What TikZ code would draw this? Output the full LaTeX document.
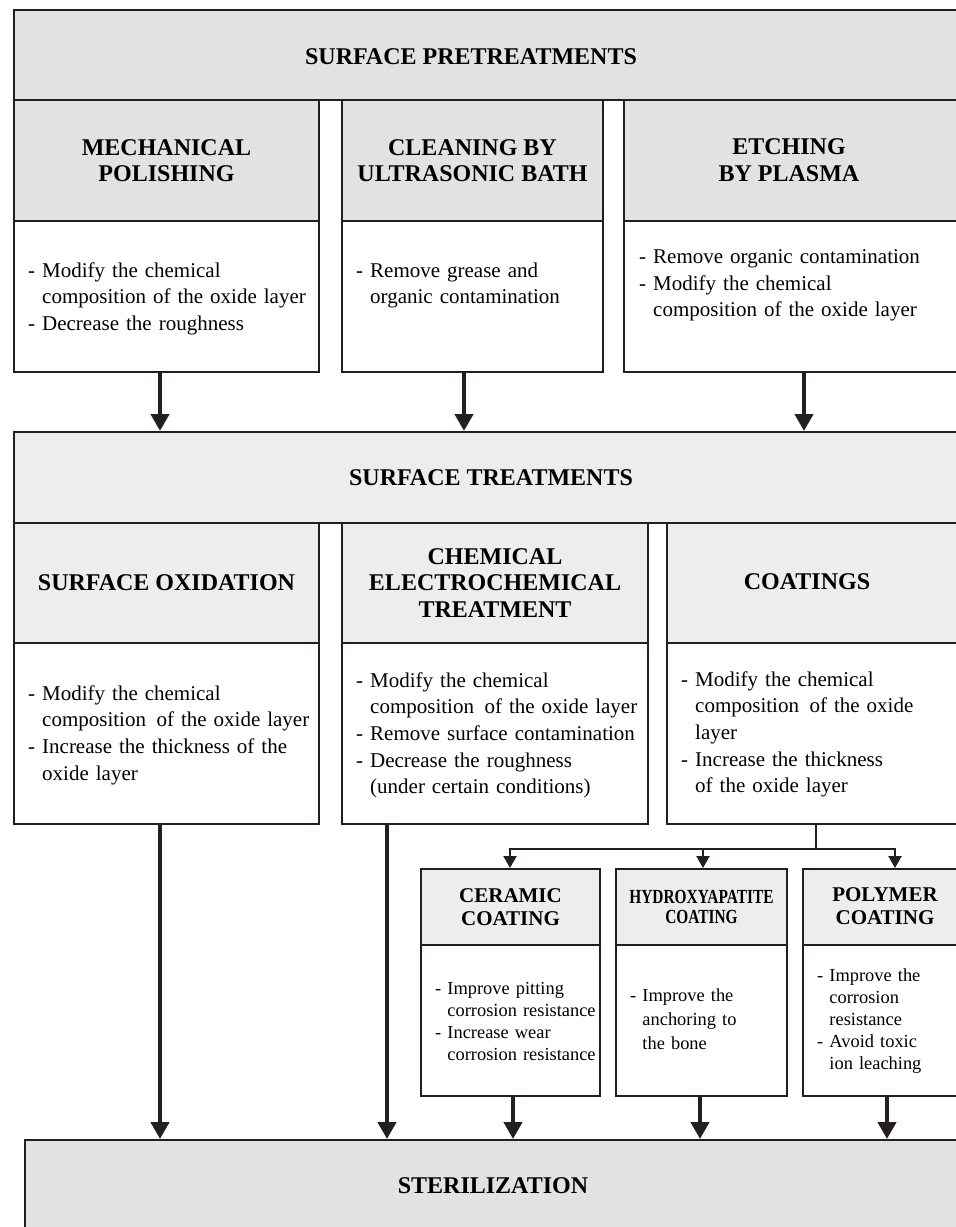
\documentclass[tikz,border=0pt]{standalone}
\usepackage{fontspec}
\setmainfont{Liberation Serif}
\usepackage{graphicx}
\usepackage{tikz}
\usetikzlibrary{positioning}
\usetikzlibrary{arrows.meta,calc}

\definecolor{boxline}{HTML}{231F20}
\definecolor{darkfill}{HTML}{E1E2E4}
\definecolor{lightfill}{HTML}{EDEDED}

\newcommand{\headfont}{\fontsize{24}{26.5}\selectfont\bfseries}
\newcommand{\txtfont}{\fontsize{21}{26.7}\selectfont}
\newcommand{\subheadfont}{\fontsize{21}{23.3}\selectfont\bfseries}
\newcommand{\subtxtfont}{\fontsize{18.4}{22}\selectfont}
\newcommand{\hang}{\phantom{- }}

\tikzset{
  box/.style={draw=boxline, line width=2pt, rectangle, inner sep=0pt, anchor=north west},
  band/.style={box, fill=darkfill},
  head/.style={box, align=center, font=\headfont},
  subhead/.style={box, fill=lightfill, align=center, font=\subheadfont},
  title/.style={inner sep=0pt, align=center, font=\headfont},
  txt/.style={inner sep=0pt, anchor=base west, text width=400pt, align=left, font=\txtfont},
  subtxt/.style={txt, font=\subtxtfont},
  arr/.style={draw=boxline, line width=4.2pt, -{Triangle[width=18pt,length=17pt]}},
  smallarr/.style={draw=boxline, line width=2.2pt, -{Triangle[width=13pt,length=12pt]}}
}

\begin{document}
\begin{tikzpicture}[x=1pt, y=-1pt]
    \useasboundingbox (0,0) rectangle (956,1227);
    \clip (0,0) rectangle (956,1227);

    % pretreatments
    \node[band, minimum width=990pt, minimum height=90pt] (pre) at (13,9) {};
    \node[title] (pretitle) at (471,57) {SURFACE PRETREATMENTS};

    \node[head, fill=darkfill, minimum width=305pt, minimum height=121pt] (mechhead) at (13,99) {MECHANICAL\\POLISHING};
    \node[box, minimum width=305pt, minimum height=151pt] (mechbody) at (13,220) {};
    \node[txt] (mechtxt) at (28,277) {- Modify the chemical\\\hang composition of the oxide layer\\- Decrease the roughness};

    \node[head, fill=darkfill, minimum width=261pt, minimum height=121pt] (cleanhead) at (341,99) {CLEANING BY\\ULTRASONIC BATH};
    \node[box, minimum width=261pt, minimum height=151pt] (cleanbody) at (341,220) {};
    \node[txt] (cleantxt) at (356,277) {- Remove grease and\\\hang organic contamination};

    \node[box, fill=darkfill, minimum width=400pt, minimum height=121pt] (etchhead) at (623,99) {};
    \node[title] (etchtitle) at (789,160) {ETCHING\\BY PLASMA};
    \node[box, minimum width=400pt, minimum height=151pt] (etchbody) at (623,220) {};
    \node[txt] (etchtxt) at (639,263.5) {- Remove organic contamination\\- Modify the chemical\\\hang composition of the oxide layer};

    % treatments
    \node[box, fill=lightfill, minimum width=990pt, minimum height=91pt] (treat) at (13,431) {};
    \node[title] (treattitle) at (491,478) {SURFACE TREATMENTS};

    \foreach \x in {160,464} % two arrows under the left boxes
        \draw[arr] (mechbody.south -| \x,0) -- (treat.north -| \x,0);
    \draw[arr] (etchbody.south -| 804,0) -- (treat.north -| 804,0);

    \node[head, fill=lightfill, minimum width=305pt, minimum height=120pt] (oxhead) at (13,522) {SURFACE OXIDATION};
    \node[box, minimum width=305pt, minimum height=181pt] (oxbody) at (13,642) {};
    \node[txt] (oxtxt) at (28,700) {- Modify the chemical\\\hang composition\, of the oxide layer\\- Increase the thickness of the\\\hang oxide layer};

    \node[head, fill=lightfill, minimum width=306pt, minimum height=120pt] (chemhead) at (341,522) {CHEMICAL\\ELECTROCHEMICAL\\TREATMENT};
    \node[box, minimum width=306pt, minimum height=181pt] (chembody) at (341,642) {};
    \node[txt] (chemtxt) at (356,687) {- Modify the chemical\\\hang composition\, of the oxide layer\\- Remove surface contamination\\- Decrease the roughness\\\hang (under certain conditions)};

    \node[box, fill=lightfill, minimum width=400pt, minimum height=120pt] (coathead) at (666,522) {};
    \node[title] (coattitle) at (807,582) {COATINGS};
    \node[box, minimum width=400pt, minimum height=181pt] (coatbody) at (666,642) {};
    \node[txt] (coattxt) at (681,686) {- Modify the chemical\\\hang composition\, of the oxide\\\hang layer\\- Increase the thickness\\\hang of the oxide layer};

    % kinds of coating
    \node[subhead, minimum width=179pt, minimum height=76pt] (cerhead) at (420,868) {CERAMIC\\COATING};
    \node[box, minimum width=179pt, minimum height=151pt] (cerbody) at (420,944) {};
    \node[subtxt] (certxt) at (435,994) {- Improve pitting\\\hang corrosion resistance\\- Increase wear\\\hang corrosion resistance};

    \node[subhead, minimum width=171pt, minimum height=76pt, font=\fontsize{20}{20}\selectfont\bfseries] (hydhead) at (615,868) {\scalebox{0.77}[1]{HYDROXYAPATITE}\\\scalebox{0.77}[1]{COATING}};
    \node[box, minimum width=171pt, minimum height=151pt] (hydbody) at (615,944) {};
    \node[subtxt, font=\fontsize{18.4}{24}\selectfont] (hydtxt) at (630,1001.5) {- Improve the\\\hang anchoring to\\\hang the bone};

    \node[box, fill=lightfill, minimum width=300pt, minimum height=76pt] (polyhead) at (802,868) {};
    \node[title, font=\subheadfont] (polytitle) at (885,906) {POLYMER\\COATING};
    \node[box, minimum width=300pt, minimum height=151pt] (polybody) at (802,944) {};
    \node[subtxt] (polytxt) at (817,981.5) {- Improve the\\\hang corrosion\\\hang resistance\\- Avoid toxic\\\hang ion leaching};

    \coordinate (split) at (816,849); % where the coating line branches
    \draw[boxline, line width=2.2pt] (coatbody.south -| split) -- (split);
    \draw[smallarr] (split) -| (cerhead.north -| 510,0);
    \draw[smallarr] (split) -| (hydhead.north -| 703,0);
    \draw[smallarr] (split) -| (polyhead.north -| 895,0);

    % sterilization
    \node[band, minimum width=990pt, minimum height=150pt] (steril) at (24,1139) {};
    \node[title] (steriltitle) at (493,1186) {STERILIZATION};

    \draw[arr] (oxbody.south -| 160,0) -- (steril.north -| 160,0);
    \draw[arr] (chembody.south -| 387,0) -- (steril.north -| 387,0);
    \draw[arr] (cerbody.south -| 513,0) -- (steril.north -| 513,0);
    \draw[arr] (hydbody.south -| 700,0) -- (steril.north -| 700,0);
    \draw[arr] (polybody.south -| 887,0) -- (steril.north -| 887,0);
\end{tikzpicture}
\end{document}
